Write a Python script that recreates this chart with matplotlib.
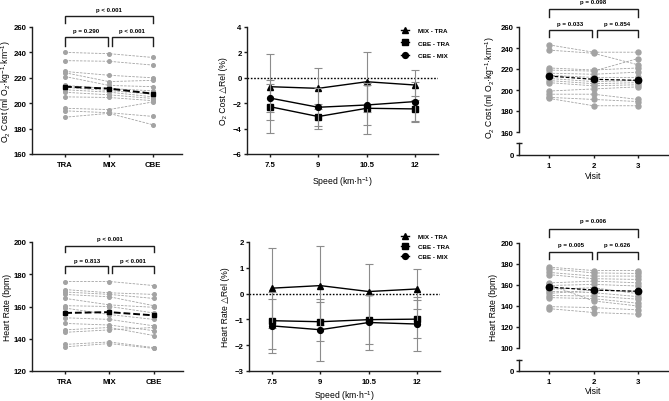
import numpy as np
import matplotlib
matplotlib.use("Agg")
import matplotlib.pyplot as plt
from matplotlib.transforms import Bbox, TransformedBbox

plt.rcParams['font.family'] = ['Liberation Sans', 'DejaVu Sans']
plt.rcParams['mathtext.fontset'] = 'custom'
plt.rcParams['mathtext.rm'] = 'Liberation Sans'
plt.rcParams['mathtext.it'] = 'Liberation Sans:italic'
plt.rcParams['mathtext.bf'] = 'Liberation Sans:bold'

# ---- data ----
conditions = ["TRA", "MIX", "CBE"]
o2_tra = [240, 233.5, 225, 224, 221, 214, 212.5, 210.6, 208.6, 205, 196, 194, 189]
o2_mix = [239, 233, 222, 217, 214, 211.6, 210, 208.7, 206.6, 204.5, 195, 192.5, 192]
o2_cbe = [236, 230, 220, 218, 213, 209.7, 207, 205, 203.7, 202, 201, 189.6, 183]
o2_cond_mean = [213, 211.5, 207.5]

hr_tra = [175.5, 170.5, 169, 167.5, 165, 160.5, 159, 153, 149.5, 145.5, 144, 136.5, 135]
hr_mix = [175.5, 168.5, 167.5, 166, 161, 160, 155, 152, 148.5, 147, 145.5, 138, 137]
hr_cbe = [173, 167.5, 165, 160.5, 159.5, 156, 152, 148, 145, 142, 147, 134.5, 134]
hr_cond_mean = [156, 156.5, 154.5]

speeds = [7.5, 9, 10.5, 12]
diff_labels = ["MIX - TRA", "CBE - TRA", "CBE - MIX"]
o2_mix_tra = [-0.70, -0.83, -0.31, -0.57]
o2_mix_tra_sd = [2.6, 1.6, 2.35, 1.2]
o2_cbe_tra = [-2.27, -3.05, -2.40, -2.45]
o2_cbe_tra_sd = [2.1, 1.0, 2.0, 1.0]
o2_cbe_mix = [-1.59, -2.32, -2.14, -1.87]
o2_cbe_mix_sd = [1.1, 1.5, 1.6, 1.5]

hr_mix_tra = [0.21, 0.31, 0.08, 0.18]
hr_mix_tra_sd = [1.56, 1.53, 1.06, 0.76]
hr_cbe_tra = [-1.05, -1.09, -1.01, -0.99]
hr_cbe_tra_sd = [1.1, 0.75, 0.95, 0.75]
hr_cbe_mix = [-1.25, -1.40, -1.12, -1.18]
hr_cbe_mix_sd = [1.06, 1.2, 1.05, 1.05]

visits = [1, 2, 3]
o2_v1 = [243, 238, 221, 219, 216, 214, 211, 209, 207, 199, 196, 193, 192]
o2_v2 = [236, 235, 219, 218, 215, 212, 208, 206, 204, 201, 196, 191, 185]
o2_v3 = [236, 224, 221, 230, 217, 212, 209, 207, 205, 203, 191, 189, 185]
o2_visit_mean = [213.3, 210.2, 209.2]

hr_v1 = [177, 175.6, 172, 169.9, 162, 159.5, 156, 154, 150, 148, 139.4, 137.5, 160.5, 152]
hr_v2 = [173.8, 171.5, 168.5, 166, 163.7, 160.6, 157.4, 152.7, 149.5, 147, 138.5, 133.8, 144.8, 155]
hr_v3 = [173.8, 171, 168.5, 165.3, 162.1, 159, 151.7, 148.9, 146.4, 142.6, 136.3, 132.2, 140, 154]
hr_visit_mean = [158, 155.2, 154]

# ---- style ----
W, H = 669, 402
DARK = '#1e1e1e'
GREY = '#a3a3a3'
TICK_FS = 5.6
LAB_FS = 6.2
P_FS = 4.4


def rect(x0, y0, x1, y1):
    # pixel box (top-left origin) -> figure fraction
    return [x0 / W, 1 - y1 / H, (x1 - x0) / W, (y1 - y0) / H]


def style(ax, bottom=True):
    for s in ['top', 'right']:
        ax.spines[s].set_visible(False)
    ax.spines['left'].set_color(DARK)
    ax.spines['left'].set_linewidth(1.0)
    ax.spines['bottom'].set_color(DARK)
    ax.spines['bottom'].set_linewidth(1.0)
    if not bottom:
        ax.spines['bottom'].set_visible(False)
    ax.tick_params(axis='both', which='major', direction='out', length=2.4,
                   width=1.0, color=DARK, labelsize=TICK_FS, pad=1.5)
    ax.tick_params(axis='x', pad=3)
    for lab in ax.get_xticklabels() + ax.get_yticklabels():
        lab.set_fontweight('bold')
    ax.patch.set_alpha(0)


def bracket(ax, x0, x1, y, leg, text, ty):
    ax.plot([x0, x0, x1, x1], [y - leg, y, y, y - leg], color=DARK, lw=1.0,
            clip_on=False, solid_joinstyle='miter')
    ax.text((x0 + x1) / 2, ty, text, ha='center', va='center', fontsize=P_FS,
            fontweight='bold', clip_on=False)


def ylab(ax, text, x):
    ax.set_ylabel(text, fontsize=LAB_FS)
    ax.yaxis.label.set_va('center')
    ax.yaxis.set_label_coords(x, 0.5)


fig = plt.figure(figsize=(W / 100, H / 100), dpi=100)


def paired_panel(box, a, b, c, mean, ylim, yticks, ylabel, lab_x, br):
    ax = fig.add_axes(rect(*box))
    x = np.arange(3)
    data = np.array([a, b, c])
    ax.plot(x, data, color=GREY, lw=0.6, ls=(0, (3, 1.5)), marker='o', ms=2.6,
            mfc=GREY, mec=GREY)
    ax.plot(x, mean, color='black', lw=1.4, ls=(0, (3.5, 1.5)), marker='s', ms=2.8)
    ax.set_xlim(-0.75, 2.66)
    ax.set_ylim(*ylim)
    ax.set_yticks(yticks)
    ax.set_xticks(x)
    ax.set_xticklabels(conditions)
    style(ax)
    ylab(ax, ylabel, lab_x)
    (ty, tl, tt), (sy, sl, st) = br[0], br[1]
    bracket(ax, 0, 2, ty, tl, br[2][0], tt)
    bracket(ax, 0, 0.97, sy, sl, br[2][1], st)
    bracket(ax, 1.06, 2, sy, sl, br[2][2], st)
    return ax


def diff_panel(box, series, ylim, yticks, ylabel, lab_x, xlab_y, leg_xy, spacing):
    ax = fig.add_axes(rect(*box))
    ax.axhline(0, color='black', ls=(0, (1.2, 1.2)), lw=1.0)
    markers = ['^', 's', 'o']
    handles = []
    for (m, sd), mk, lab in zip(series, markers, diff_labels):
        ax.errorbar(speeds, m, yerr=sd, fmt='none', ecolor='#8c8c8c',
                    elinewidth=0.8, capsize=3, capthick=0.8)
        h, = ax.plot(speeds, m, color='black', lw=1.0, marker=mk, ms=4.2,
                     label=lab)
        handles.append(h)
    ax.set_xlim(6.8, 12.7)
    ax.set_ylim(*ylim)
    ax.set_yticks(yticks)
    ax.set_xticks(speeds)
    ax.set_xticklabels(['7.5', '9', '10.5', '12'])
    style(ax)
    ylab(ax, ylabel, lab_x)
    ax.set_xlabel('Speed (km·h$^{-1}$)', fontsize=LAB_FS)
    ax.xaxis.label.set_va('center')
    ax.xaxis.set_label_coords(0.5, xlab_y)
    leg = ax.legend(handles=handles, loc='upper left', frameon=False,
                    bbox_to_anchor=(leg_xy[0] / W, 1 - leg_xy[1] / H),
                    bbox_transform=fig.transFigure, borderpad=0,
                    borderaxespad=0, handlelength=1.3, handletextpad=1.4,
                    labelspacing=spacing, prop={'size': 4.5, 'weight': 'bold'})
    clip = TransformedBbox(Bbox.from_extents(0, 0, 450 / W, 1), fig.transFigure)
    for t in leg.get_texts():
        t.set_clip_box(clip)
        t.set_clip_on(True)
    return ax


def visit_panel(top_box, bot_box, a, b, c, mean, ylim, yticks, ylabel,
                lab_xy, xlab_y, br):
    ax = fig.add_axes(rect(*top_box))
    axb = fig.add_axes(rect(*bot_box))
    data = np.array([a, b, c])
    ax.plot(visits, data, color=GREY, lw=0.6, ls=(0, (3, 1.5)), marker='o',
            ms=3.6, mfc=GREY, mec=GREY)
    ax.plot(visits, mean, color='black', lw=0.9, ls=(0, (3, 1.5)), marker='o', ms=4.6)
    for a_ in (ax, axb):
        a_.set_xlim(0.33, 3.67)
    ax.set_ylim(*ylim)
    ax.set_yticks(yticks)
    ax.set_xticks([])
    style(ax, bottom=False)
    axb.set_ylim(0, 10)
    axb.set_yticks([0])
    axb.set_yticks([10], minor=True)
    axb.set_xticks(visits)
    style(axb)
    axb.tick_params(axis='y', which='minor', direction='inout', length=4.0,
                    width=1.0, color=DARK)
    axb.set_xlabel('Visit', fontsize=LAB_FS)
    axb.xaxis.label.set_va('center')
    axb.xaxis.set_label_coords(0.5, xlab_y)
    fig.text(lab_xy[0] / W, 1 - lab_xy[1] / H, ylabel, rotation=90,
             ha='center', va='center', fontsize=LAB_FS)
    (ty, tl, tt), (sy, sl, st) = br[0], br[1]
    bracket(ax, 1, 3, ty, tl, br[2][0], tt)
    bracket(ax, 1, 1.97, sy, sl, br[2][1], st)
    bracket(ax, 2.07, 3, sy, sl, br[2][2], st)
    return ax


o2_label = 'O$_2$ Cost (ml O$_2$·kg$^{-1}$·km$^{-1}$)'

paired_panel((32, 28, 182, 155), o2_tra, o2_mix, o2_cbe, o2_cond_mean,
             (160, 260), range(160, 261, 20), o2_label, -0.173,
             [(268.7, 5.6, 273.4), (252.1, 7.1, 257.0),
              ['p < 0.001', 'p = 0.290', 'p < 0.001']])

paired_panel((32, 243, 183, 372), hr_tra, hr_mix, hr_cbe, hr_cond_mean,
             (120, 200), range(120, 201, 20), 'Heart Rate (bpm)', -0.16,
             [(197.7, 4.1, 202.3), (185.3, 4.5, 188.8),
              ['p < 0.001', 'p = 0.813', 'p < 0.001']])

diff_panel((247, 28, 438, 155),
           [(o2_mix_tra, o2_mix_tra_sd), (o2_cbe_tra, o2_cbe_tra_sd),
            (o2_cbe_mix, o2_cbe_mix_sd)],
           (-6, 4), range(-6, 5, 2), 'O\u2082 Cost \u25b3Rel (%)', -0.125,
           -0.215, (401, 29), 1.1)

diff_panel((249, 243, 440, 372),
           [(hr_mix_tra, hr_mix_tra_sd), (hr_cbe_tra, hr_cbe_tra_sd),
            (hr_cbe_mix, hr_cbe_mix_sd)],
           (-3, 2), range(-3, 3, 1), 'Heart Rate \u25b3Rel (%)', -0.125,
           -0.19, (401, 235), 0.75)

visit_panel((519, 28, 668, 133), (519, 144, 668, 156), o2_v1, o2_v2, o2_v3,
            o2_visit_mean, (160, 260), range(160, 261, 20), o2_label,
            (490, 88), -1.67,
            [(277.1, 7.9, 284.0), (257.1, 6.9, 263.5),
             ['p = 0.098', 'p = 0.033', 'p = 0.854']])

visit_panel((519, 244, 668, 349), (519, 361, 668, 372), hr_v1, hr_v2, hr_v3,
            hr_visit_mean, (100, 200), range(100, 201, 20), 'Heart Rate (bpm)',
            (493, 307), -1.8,
            [(212.9, 7.0, 221.0), (191.8, 7.2, 198.8),
             ['p = 0.006', 'p = 0.005', 'p = 0.626']])

fig.savefig("out.png", dpi=100)
